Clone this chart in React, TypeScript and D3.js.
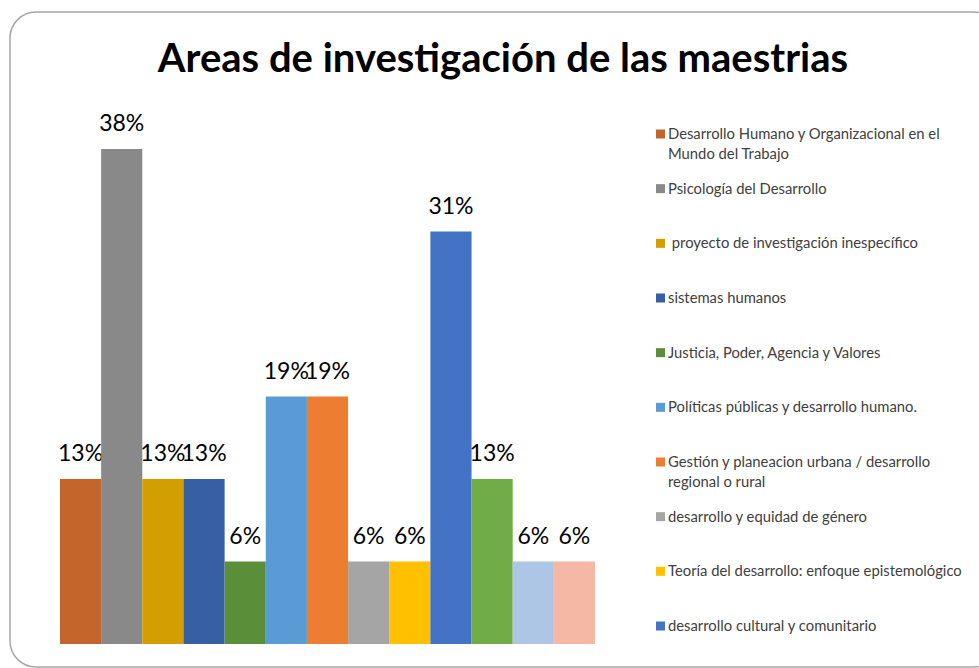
import React from "react";
import * as d3 from "d3";

const title = "Areas de investigación de las maestrias";

const categories = [
  "Desarrollo Humano y Organizacional en el Mundo del Trabajo",
  "Psicología del Desarrollo",
  " proyecto de investigación inespecífico",
  "sistemas humanos",
  "Justicia, Poder, Agencia y Valores",
  "Políticas públicas y desarrollo humano.",
  "Gestión y planeacion urbana / desarrollo regional o rural",
  "desarrollo y equidad de género",
  "Teoría del desarrollo: enfoque epistemológico",
  "desarrollo cultural y comunitario",
  "Serie 11",
  "Serie 12",
  "Serie 13",
];

const values = [12.5, 37.5, 12.5, 12.5, 6.25, 18.75, 18.75, 6.25, 6.25, 31.25, 12.5, 6.25, 6.25];

const colors = [
  "#C4662B", "#898989", "#D39F00", "#365FA4", "#5B8E39", "#5B9BD5", "#ED7D31",
  "#A5A5A5", "#FFC000", "#4472C4", "#70AD47", "#ADC6E6", "#F4B8A4",
];

const legendVisible = 10;

const W = 979;
const H = 668;
const FONT = "Lato, 'Open Sans', 'Liberation Sans', sans-serif";
const legendFontSize = 14.8;

function wrap(text: string, maxW: number, font: string): string[] {
  const c = document.createElement("canvas").getContext("2d")!;
  c.font = font;
  const words = text.split(" ");
  const lines: string[] = [];
  let cur = "";
  words.forEach((w, i) => {
    const test = i === 0 ? w : cur + " " + w;
    if (c.measureText(test).width > maxW && cur.trim() !== "") {
      lines.push(cur);
      cur = w;
    } else cur = test;
  });
  lines.push(cur);
  return lines;
}

export default function App() {
  const x = d3.scaleBand<number>().domain(d3.range(values.length)).range([60, 595]).padding(0);
  const y = d3.scaleLinear().domain([0, 40]).range([644, 116]);
  const legendY = d3.scaleLinear().domain([0, legendVisible - 1]).range([134, 626]);
  const fmt = (v: number) => d3.format(".0f")(Math.round(v)) + "%";

  return (
    <div style={{ position: "absolute", left: 0, top: 0, width: W, height: H, background: "#fff" }}>
      <svg width={W} height={H} style={{ display: "block" }}>
        <rect x={10} y={12} width={990} height={655} rx={26} ry={26} fill="#fff" stroke="#a6a6a6" strokeWidth={1.5} />
        <text x={503} y={72} textAnchor="middle" fontFamily={FONT} fontWeight={700} fontSize={40} fill="#000">
          {title}
        </text>
        {values.map((v, i) => (
          <g key={i}>
            <rect x={x(i)} y={y(v)} width={x.bandwidth()} height={y(0) - y(v)} fill={colors[i]} />
            <text
              x={(x(i) as number) + x.bandwidth() / 2}
              y={y(v) - 18}
              textAnchor="middle"
              fontFamily={FONT}
              fontSize={23}
              fill="#000"
            >
              {fmt(v)}
            </text>
          </g>
        ))}
        {categories.slice(0, legendVisible).map((c, i) => {
          const lines = wrap(c, 305, `${legendFontSize}px ${FONT}`);
          const cy = legendY(i);
          return (
            <g key={"l" + i}>
              <rect x={656} y={cy - 4.5} width={9} height={9} fill={colors[i]} />
              <text x={668} y={cy + 5} fontFamily={FONT} fontSize={legendFontSize} fill="#404040" style={{ whiteSpace: "pre" }}>
                {lines.map((l, j) => (
                  <tspan key={j} x={668} dy={j === 0 ? 0 : 19.5}>
                    {l}
                  </tspan>
                ))}
              </text>
            </g>
          );
        })}
      </svg>
    </div>
  );
}
